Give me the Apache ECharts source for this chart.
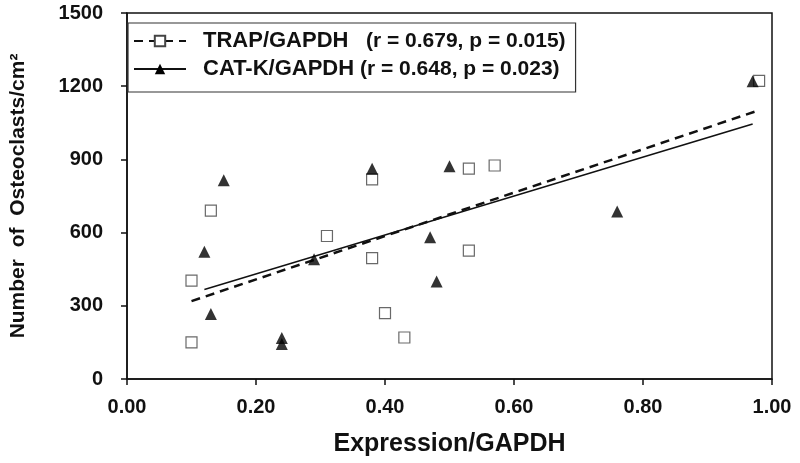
<!DOCTYPE html>
<html>
<head>
<meta charset="utf-8">
<script src="https://cdn.jsdelivr.net/npm/echarts@6/dist/echarts.min.js"></script>
<style>html,body{margin:0;padding:0;background:#fff}#c{width:800px;height:463px}</style>
</head>
<body>
<div id="c"></div>
<script>
// TRAP/GAPDH data (open squares)
const trapX = [0.10, 0.10, 0.13, 0.31, 0.38, 0.38, 0.40, 0.43, 0.53, 0.53, 0.57, 0.98];
const trapY = [150, 403, 690, 586, 818, 495, 270, 170, 862, 526, 875, 1222];
// CAT-K/GAPDH data (filled triangles)
const catX = [0.12, 0.13, 0.15, 0.24, 0.24, 0.29, 0.38, 0.47, 0.48, 0.50, 0.76, 0.97];
const catY = [522, 266, 815, 168, 143, 491, 862, 581, 400, 872, 686, 1220];
const seriesNames = ['TRAP/GAPDH', 'CAT-K/GAPDH'];
const statsText = ['   (r = 0.679, p = 0.015)', ' (r = 0.648, p = 0.023)'];
const xTicks = [0, 0.2, 0.4, 0.6, 0.8, 1.0];
const yTicks = [0, 300, 600, 900, 1200, 1500];

function pairs(xs, ys) { return xs.map((x, i) => [x, ys[i]]); }
function fit(xs, ys) {
  const n = xs.length;
  const mx = xs.reduce((a, b) => a + b, 0) / n;
  const my = ys.reduce((a, b) => a + b, 0) / n;
  let sxy = 0, sxx = 0;
  for (let i = 0; i < n; i++) { sxy += (xs[i] - mx) * (ys[i] - my); sxx += (xs[i] - mx) ** 2; }
  const b = sxy / sxx, a = my - b * mx;
  const x0 = Math.min(...xs), x1 = Math.max(...xs);
  return [[x0, a + b * x0], [x1, a + b * x1]];
}

const font = '"Liberation Sans", Arial, sans-serif';
const chart = echarts.init(document.getElementById('c'), null, {renderer: 'canvas'});
chart.setOption({
  animation: false,
  backgroundColor: '#fff',
  grid: {left: 123, right: 28, top: 13, bottom: 84, show: true, borderColor: '#111', borderWidth: 1.5, backgroundColor: 'transparent'},
  legend: {
    data: seriesNames,
    left: 128, top: 23,
    orient: 'vertical',
    itemWidth: 52, itemHeight: 13, itemGap: 4,
    padding: [6, 10, 11, 5],
    borderColor: '#333', borderWidth: 1.2,
    formatter: function (name) { return '{n|' + name + '}{s|' + statsText[seriesNames.indexOf(name)] + '}'; },
    textStyle: {
      fontFamily: font, fontWeight: 'bold', fontSize: 21, color: '#111', lineHeight: 24,
      rich: {
        n: {fontFamily: font, fontWeight: 'bold', fontSize: 22, color: '#111', lineHeight: 24, padding: [0, 0, 0, 12]},
        s: {fontFamily: font, fontWeight: 'bold', fontSize: 21, color: '#111', lineHeight: 24}
      }
    },
    selectedMode: false
  },
  xAxis: {
    type: 'value', min: 0, max: 1, interval: 0.2,
    name: 'Expression/GAPDH', nameLocation: 'middle', nameGap: 53,
    nameTextStyle: {fontFamily: font, fontWeight: 'bold', fontSize: 25, color: '#111'},
    axisLine: {show: true, lineStyle: {color: '#111', width: 1.5}},
    axisTick: {show: true, length: 6, lineStyle: {color: '#111', width: 1.5}},
    axisLabel: {margin: 18, fontFamily: font, fontWeight: 'bold', fontSize: 20, color: '#111',
      formatter: v => xTicks.some(t => Math.abs(t - v) < 1e-9) ? v.toFixed(2) : ''},
    splitLine: {show: false}
  },
  yAxis: {
    type: 'value', min: 0, max: 1500, interval: 300,
    name: 'Number  of  Osteoclasts/cm²', nameLocation: 'middle', nameGap: 98,
    nameTextStyle: {fontFamily: font, fontWeight: 'bold', fontSize: 21, color: '#111'},
    axisLine: {show: true, lineStyle: {color: '#111', width: 1.5}},
    axisTick: {show: true, length: 6, lineStyle: {color: '#111', width: 1.5}},
    axisLabel: {margin: 24, fontFamily: font, fontWeight: 'bold', fontSize: 20, color: '#111',
      formatter: v => yTicks.includes(v) ? String(v) : ''},
    splitLine: {show: false}
  },
  series: [
    {
      name: seriesNames[0], type: 'line', data: fit(trapX, trapY),
      symbol: 'rect', symbolSize: 11, showSymbol: false, z: 2,
      itemStyle: {color: '#fff', borderColor: '#444', borderWidth: 1.2},
      lineStyle: {color: '#111', width: 2.5, type: [9, 6]}
    },
    {
      name: seriesNames[1], type: 'line', data: fit(catX, catY),
      symbol: 'triangle', symbolSize: 12, showSymbol: false, z: 2,
      itemStyle: {color: '#000'},
      lineStyle: {color: '#111', width: 1.5, type: 'solid'}
    },
    {
      name: seriesNames[0], type: 'scatter', data: pairs(trapX, trapY),
      symbol: 'rect', symbolSize: 11, z: 3,
      itemStyle: {color: '#fff', borderColor: '#444', borderWidth: 1.2}
    },
    {
      name: seriesNames[1], type: 'scatter', data: pairs(catX, catY),
      symbol: 'triangle', symbolSize: 12, z: 4,
      itemStyle: {color: '#000'}
    }
  ]
});
</script>
</body>
</html>
